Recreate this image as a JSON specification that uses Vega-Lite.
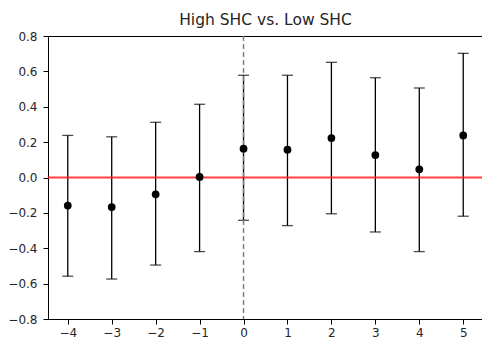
{
  "$schema": "https://vega.github.io/schema/vega-lite/v6.json",
  "width": 435,
  "height": 283,
  "autosize": {"type": "none"},
  "padding": {"left": 48, "top": 36, "right": 0, "bottom": 20},
  "background": "white",
  "config": {
    "font": "DejaVu Sans",
    "view": {"stroke": "black", "strokeWidth": 1},
    "axis": {
      "grid": false,
      "domain": false,
      "tickColor": "black",
      "tickSize": 5,
      "tickWidth": 1,
      "labelFontSize": 12,
      "labelColor": "#262626",
      "labelOverlap": false,
      "labelFlush": false,
      "title": null
    }
  },
  "title": {"text": "High SHC vs. Low SHC", "fontSize": 15.5, "fontWeight": "normal", "color": "#262626", "offset": 2, "anchor": "middle"},
  "data": {"values": [
    {"x": -4, "y": -0.159, "lo": -0.558, "hi": 0.238},
    {"x": -3, "y": -0.167, "lo": -0.574, "hi": 0.230},
    {"x": -2, "y": -0.095, "lo": -0.495, "hi": 0.312},
    {"x": -1, "y": 0.003, "lo": -0.419, "hi": 0.414},
    {"x": 0, "y": 0.163, "lo": -0.242, "hi": 0.578},
    {"x": 1, "y": 0.157, "lo": -0.272, "hi": 0.578},
    {"x": 2, "y": 0.223, "lo": -0.205, "hi": 0.651},
    {"x": 3, "y": 0.127, "lo": -0.308, "hi": 0.564},
    {"x": 4, "y": 0.046, "lo": -0.419, "hi": 0.506},
    {"x": 5, "y": 0.238, "lo": -0.219, "hi": 0.702}
  ]},
  "encoding": {
    "x": {"field": "x", "type": "quantitative",
      "scale": {"domain": [-4.45, 5.45], "nice": false, "zero": false},
      "axis": {"values": [-4, -3, -2, -1, 0, 1, 2, 3, 4, 5], "format": "d", "labelPadding": 3}}
  },
  "layer": [
    {
      "mark": {"type": "rule", "color": "black", "strokeWidth": 1.3},
      "encoding": {
        "y": {"field": "lo", "type": "quantitative",
          "scale": {"domain": [-0.8, 0.8], "nice": false, "zero": false},
          "axis": {"values": [-0.8, -0.6, -0.4, -0.2, 0, 0.2, 0.4, 0.6, 0.8], "format": ".1f", "labelPadding": 6}},
        "y2": {"field": "hi"}
      }
    },
    {
      "mark": {"type": "tick", "color": "black", "orient": "horizontal", "size": 11, "thickness": 1.3},
      "encoding": {"y": {"field": "lo", "type": "quantitative",
          "axis": {"values": [-0.8, -0.6, -0.4, -0.2, 0, 0.2, 0.4, 0.6, 0.8], "format": ".1f", "labelPadding": 6}}}
    },
    {
      "mark": {"type": "tick", "color": "black", "orient": "horizontal", "size": 11, "thickness": 1.3},
      "encoding": {"y": {"field": "hi", "type": "quantitative",
          "axis": {"values": [-0.8, -0.6, -0.4, -0.2, 0, 0.2, 0.4, 0.6, 0.8], "format": ".1f", "labelPadding": 6}}}
    },
    {
      "data": {"values": [{"v": 0}]},
      "mark": {"type": "rule", "color": "#808080", "strokeWidth": 1.5, "strokeDash": [5, 3]},
      "encoding": {"x": {"field": "v", "type": "quantitative"}}
    },
    {
      "data": {"values": [{"h": 0}]},
      "mark": {"type": "rule", "color": "#ff2020", "strokeWidth": 2, "opacity": 0.85},
      "encoding": {"y": {"field": "h", "type": "quantitative",
          "axis": {"values": [-0.8, -0.6, -0.4, -0.2, 0, 0.2, 0.4, 0.6, 0.8], "format": ".1f", "labelPadding": 6}}, "x": {"value": 0}, "x2": {"value": 435}}
    },
    {
      "mark": {"type": "point", "filled": true, "shape": "circle", "color": "black", "size": 60, "opacity": 1},
      "encoding": {"y": {"field": "y", "type": "quantitative",
          "axis": {"values": [-0.8, -0.6, -0.4, -0.2, 0, 0.2, 0.4, 0.6, 0.8], "format": ".1f", "labelPadding": 6}}}
    }
  ]
}
